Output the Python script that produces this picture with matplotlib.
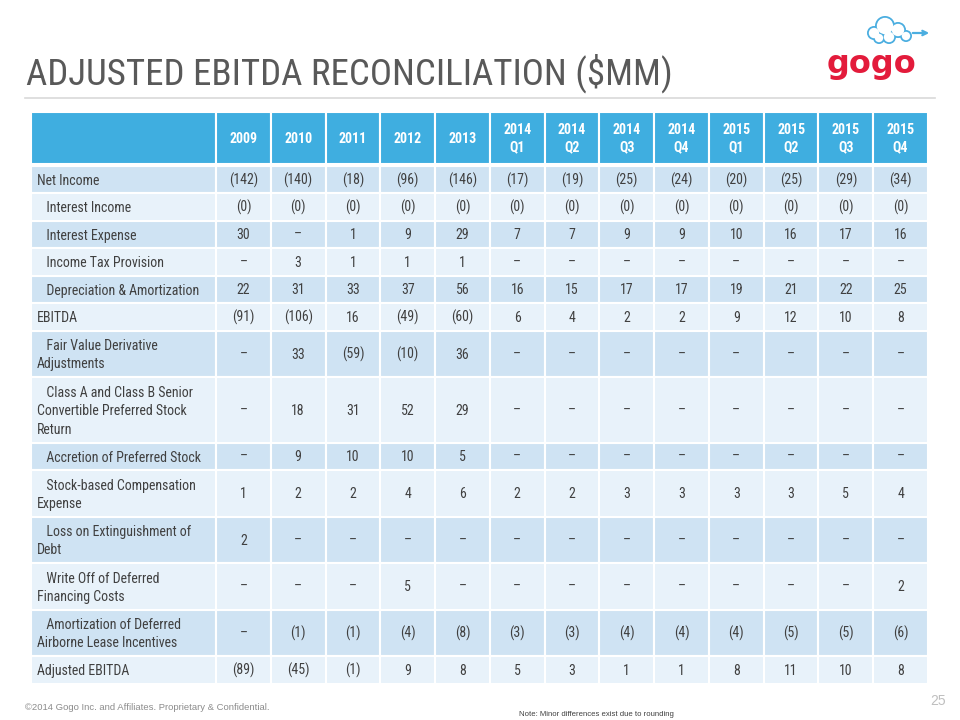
import matplotlib
matplotlib.use('Agg')
import matplotlib.pyplot as plt
from matplotlib.patches import Rectangle, Circle, FancyArrowPatch

# Column headers
columns = ['2009', '2010', '2011', '2012', '2013',
           '2014\nQ1', '2014\nQ2', '2014\nQ3', '2014\nQ4',
           '2015\nQ1', '2015\nQ2', '2015\nQ3', '2015\nQ4']

# Row labels (first line indented for sub-items)
row_labels = [
    'Net Income',
    '   Interest Income',
    '   Interest Expense',
    '   Income Tax Provision',
    '   Depreciation & Amortization',
    'EBITDA',
    '   Fair Value Derivative\nAdjustments',
    '   Class A and Class B Senior\nConvertible Preferred Stock\nReturn',
    '   Accretion of Preferred Stock',
    '   Stock-based Compensation\nExpense',
    '   Loss on Extinguishment of\nDebt',
    '   Write Off of Deferred\nFinancing Costs',
    '   Amortization of Deferred\nAirborne Lease Incentives',
    'Adjusted EBITDA',
]

D = '–'
net_income = ['(142)', '(140)', '(18)', '(96)', '(146)', '(17)', '(19)', '(25)', '(24)', '(20)', '(25)', '(29)', '(34)']
interest_income = ['(0)'] * 13
interest_expense = ['30', D, '1', '9', '29', '7', '7', '9', '9', '10', '16', '17', '16']
income_tax = [D, '3', '1', '1', '1', D, D, D, D, D, D, D, D]
dep_amort = ['22', '31', '33', '37', '56', '16', '15', '17', '17', '19', '21', '22', '25']
ebitda = ['(91)', '(106)', '16', '(49)', '(60)', '6', '4', '2', '2', '9', '12', '10', '8']
fair_value = [D, '33', '(59)', '(10)', '36', D, D, D, D, D, D, D, D]
class_ab = [D, '18', '31', '52', '29', D, D, D, D, D, D, D, D]
accretion = [D, '9', '10', '10', '5', D, D, D, D, D, D, D, D]
stock_comp = ['1', '2', '2', '4', '6', '2', '2', '3', '3', '3', '3', '5', '4']
loss_extinguish = ['2', D, D, D, D, D, D, D, D, D, D, D, D]
write_off = [D, D, D, '5', D, D, D, D, D, D, D, D, '2']
amort_lease = [D, '(1)', '(1)', '(4)', '(8)', '(3)', '(3)', '(4)', '(4)', '(4)', '(5)', '(5)', '(6)']
adj_ebitda = ['(89)', '(45)', '(1)', '9', '8', '5', '3', '1', '1', '8', '11', '10', '8']

rows = [net_income, interest_income, interest_expense, income_tax, dep_amort, ebitda,
        fair_value, class_ab, accretion, stock_comp, loss_extinguish, write_off,
        amort_lease, adj_ebitda]

NARROW = ['Roboto Condensed', 'DejaVu Sans']
HEADER_BLUE = '#3FAEE0'
ROW_DARK = '#CFE3F3'
ROW_LIGHT = '#E8F2FA'
TEXT = '#404040'

fig = plt.figure(figsize=(9.6, 7.2), dpi=100)
ax = fig.add_axes([0, 0, 1, 1])
ax.set_xlim(0, 960)
ax.set_ylim(720, 0)
ax.axis('off')

# Title and rule
ax.text(26, 73, 'ADJUSTED EBITDA RECONCILIATION ($MM)', fontsize=26.6, color='#595959',
        family=NARROW, va='center', ha='left')
ax.plot([25, 935], [98, 98], color='#D9D9D9', lw=1.2)

# Logo: cloud outline + red wordmark
cloud = [(874, 33, 7), (885, 26, 10), (898, 30, 8), (906, 36, 6), (889, 37, 7), (879, 38, 6)]
for cx, cy, r in cloud:
    ax.add_patch(Circle((cx, cy), r, color='#4BAEE0', lw=0))
for cx, cy, r in cloud:
    ax.add_patch(Circle((cx, cy), r - 1.8, color='white', lw=0))
ax.add_patch(FancyArrowPatch((910, 33), (932, 33), arrowstyle='->', mutation_scale=8,
                             color='#4BAEE0', lw=1.6))
ax.text(871, 65, 'gogo', fontsize=23, fontweight='bold', color='#E31B3B',
        family='DejaVu Sans', ha='center', va='center')

# Table geometry
x_left, x_label = 31, 216
col_w = (928 - x_label) / len(columns)
y_top, header_h = 112, 52

ax.add_patch(Rectangle((x_left, y_top), x_label - x_left, header_h,
                       facecolor=HEADER_BLUE, edgecolor='white', lw=1.5))
for j, col in enumerate(columns):
    x0 = x_label + j * col_w
    ax.add_patch(Rectangle((x0, y_top), col_w, header_h,
                           facecolor=HEADER_BLUE, edgecolor='white', lw=1.5))
    ax.text(x0 + col_w / 2, y_top + header_h / 2 + 1, col, color='white', fontsize=10,
            fontweight='bold', family=NARROW, ha='center', va='center', linespacing=1.3)

y = y_top + header_h + 1.5
for i, (label, vals) in enumerate(zip(row_labels, rows)):
    n_lines = label.count('\n') + 1
    h = 27.5 + (n_lines - 1) * 19
    color = ROW_DARK if i % 2 == 0 else ROW_LIGHT
    ax.add_patch(Rectangle((x_left, y), x_label - x_left, h,
                           facecolor=color, edgecolor='white', lw=1.5))
    ax.text(x_left + 6, y + h / 2 + 1.5, label, color=TEXT, fontsize=10, family=NARROW,
            ha='left', va='center', linespacing=1.4)
    for j, v in enumerate(vals):
        x0 = x_label + j * col_w
        ax.add_patch(Rectangle((x0, y), col_w, h, facecolor=color, edgecolor='white', lw=1.5))
        ax.text(x0 + col_w / 2, y + h / 2 + 1, v, color=TEXT, fontsize=10, family=NARROW,
                ha='center', va='center')
    y += h

# Footer
ax.text(25, 707, '©2014 Gogo Inc. and Affiliates. Proprietary & Confidential.', fontsize=6.8,
        color='#8C8C8C', family=['Liberation Sans', 'DejaVu Sans'], ha='left', va='center')
ax.text(519, 715, 'Note: Minor differences exist due to rounding', fontsize=5.6,
        color='#404040', family=['Liberation Sans', 'DejaVu Sans'], ha='left', va='center')
ax.text(946, 701, '25', fontsize=10, color='#BFBFBF', family=['Liberation Sans', 'DejaVu Sans'],
        ha='right', va='center')

fig.savefig('out.png', dpi=100)
